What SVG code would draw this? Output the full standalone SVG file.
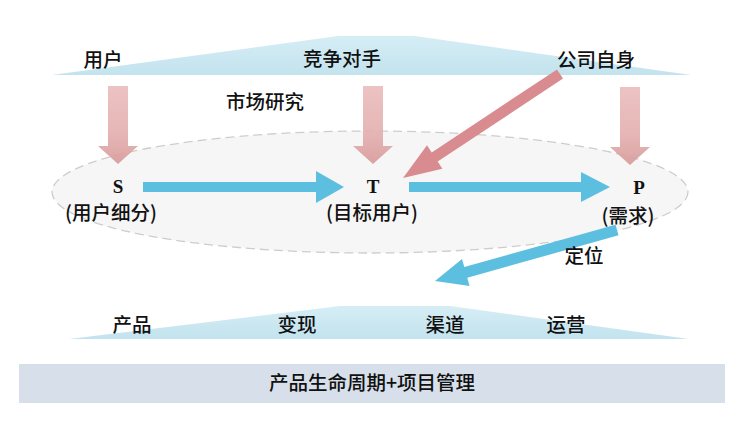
<svg xmlns="http://www.w3.org/2000/svg" width="751" height="428" viewBox="0 0 751 428">
<defs>
<linearGradient id="band" x1="0" y1="0" x2="0" y2="1">
<stop offset="0" stop-color="#d6edf5"/>
<stop offset="1" stop-color="#c2e3ee"/>
</linearGradient>
<linearGradient id="pink" x1="0" y1="0" x2="0" y2="1">
<stop offset="0" stop-color="#eabdbd"/>
<stop offset="0.6" stop-color="#e4b0b0"/>
<stop offset="1" stop-color="#d89a9a"/>
</linearGradient>
<style>
.cn{font-family:"Noto Sans CJK SC","Noto Sans",sans-serif;font-weight:500;font-size:19.5px;fill:#111;text-anchor:middle}
.lt{font-family:"Liberation Serif","Noto Sans CJK SC",serif;font-weight:bold;font-size:19px;fill:#111;text-anchor:middle}
.band{fill:url(#band)}
.down{fill:url(#pink)}
.blue{fill:#5dbfe0}
</style>
</defs>
<rect width="751" height="428" fill="#fff"/>
<g id="top-band">
<polygon class="band" points="52,75 338,36 415,36 691,75"/>
<text class="cn" x="103" y="67">用户</text>
<text class="cn" x="342" y="66">竞争对手</text>
<text class="cn" x="596" y="67">公司自身</text>
</g>
<g id="market-research">
<ellipse cx="370" cy="192" rx="318" ry="61" fill="#f6f6f6" stroke="#d0cccc" stroke-width="1.3" stroke-dasharray="9 5"/>
<text class="cn" x="265" y="109">市场研究</text>
</g>
<g id="connectors">
<path class="down" d="M108,86 H128 V146 H138 L118,164 L98,146 H108 Z" opacity="0.92"/>
<path class="down" d="M363,86 H383 V146 H393 L373,164 L353,146 H363 Z" opacity="0.92"/>
<path class="down" d="M620,87 H640 V147 H650 L630,165 L610,147 H620 Z" opacity="0.92"/>
<polygon fill="#d98c90" points="557,69.4 563,78.6 437.7,161.6 442.4,168.7 403,178 427,145.3 431.7,152.4"/>
<path class="blue" d="M143,182 H316 V171 L344,187 L316,203 V192 H143 Z"/>
<path class="blue" d="M409,182 H581 V172 L610,187 L581,202 V192 H409 Z"/>
<polygon class="blue" points="615.5,224.7 618.5,235.3 467.3,277.7 469.6,285.9 435,281 462,258.9 464.3,267.1"/>
<text class="cn" x="584" y="263">定位</text>
</g>
<g id="S">
<text class="lt" x="118" y="193">S</text>
<text class="cn" x="111" y="220">(用户细分)</text>
</g>
<g id="T">
<text class="lt" x="373" y="193">T</text>
<text class="cn" x="372" y="220">(目标用户)</text>
</g>
<g id="P">
<text class="lt" x="639" y="194">P</text>
<text class="cn" x="628" y="223">(需求)</text>
</g>
<g id="bottom-band">
<polygon class="band" points="69,339 340,306 450,306 689,339"/>
<text class="cn" x="132" y="332">产品</text>
<text class="cn" x="297" y="332">变现</text>
<text class="cn" x="445" y="332">渠道</text>
<text class="cn" x="566" y="332">运营</text>
</g>
<g id="lifecycle">
<rect x="19" y="364" width="706" height="39" fill="#d7e0ea"/>
<text class="cn" x="372" y="390">产品生命周期+项目管理</text>
</g>
</svg>
